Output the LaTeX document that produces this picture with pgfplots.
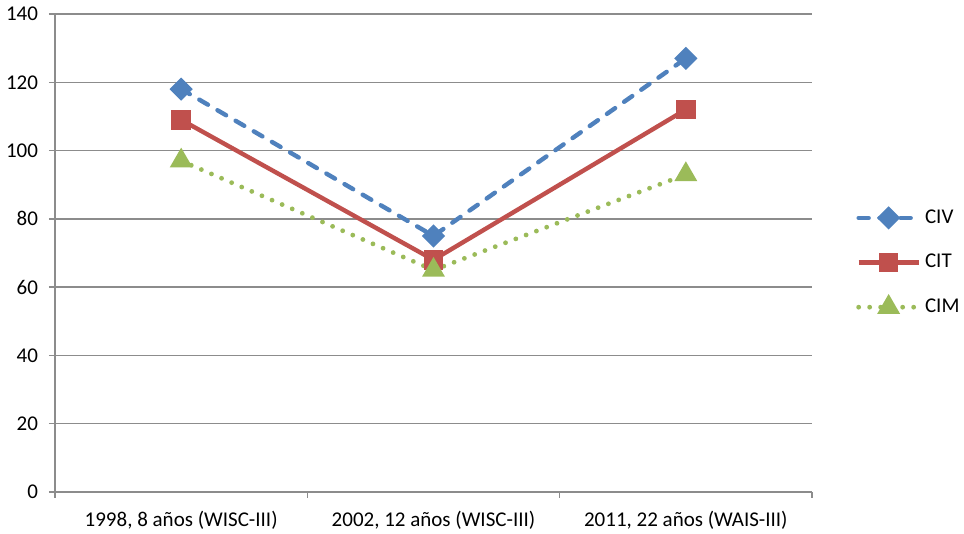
\documentclass[border=0pt]{standalone}
\usepackage{fontspec}
\setmainfont{Carlito}
\usepackage{pgfplots}
\pgfplotsset{compat=1.18}
\definecolor{civ}{HTML}{4F81BD}
\definecolor{cit}{HTML}{C0504D}
\definecolor{cim}{HTML}{9BBB59}
\definecolor{gridc}{HTML}{8C8C8C}
\begin{document}
\begin{tikzpicture}
\useasboundingbox (-27.5pt,-21pt) rectangle (454.5pt,246pt);
\begin{axis}[
  at={(0,0)}, anchor=south west,
  scale only axis, width=378.5pt, height=239pt,
  xmin=-0.5, xmax=2.5, ymin=0, ymax=140,
  ytick={0,20,...,140},
  xtick={0,1,2},
  xticklabels={{1998, 8 años (WISC-III)},{2002, 12 años (WISC-III)},{2011, 22 años (WAIS-III)}},
  minor xtick={-0.5,0.5,1.5,2.5},
  axis lines*=left,
  axis line style={gridc, line width=0.7pt},
  ymajorgrids, grid style={gridc, line width=0.7pt},
  tick align=outside,
  major tick length=3pt, minor tick length=3pt,
  x tick style={draw=none},
  minor x tick style={draw=gridc, line width=0.7pt},
  y tick style={gridc, line width=0.7pt},
  tick label style={font=\fontsize{10.5}{12}\selectfont, text=black},
  /pgf/number format/assume math mode=true,
  yticklabel style={xshift=-2pt},
  xticklabel style={yshift=-3pt},
  clip=false,
  legend style={at={(1.05,0.48)}, anchor=west, draw=none, fill=none,
    font=\fontsize{10.5}{12}\selectfont, row sep=10pt},
  legend cell align=left,
  legend image code/.code={
    \draw[#1, mark repeat=2, mark phase=2] plot coordinates {(0pt,0pt) (15pt,0pt) (30pt,0pt)};
  },
]
\addplot[civ, line width=2.2pt, line cap=round, dash pattern=on 5pt off 5.5pt,
  mark=square*, mark size=3pt, mark options={solid, rotate=45, fill=civ, draw=civ}]
  coordinates {(0,118) (1,75) (2,127)};
\addlegendentry{CIV}
\addplot[cit, line width=2.2pt,
  mark=square*, mark size=3.8pt, mark options={solid, fill=cit, draw=cit}]
  coordinates {(0,109) (1,68) (2,112)};
\addlegendentry{CIT}
\addplot[cim, line width=2.4pt, line cap=round, dash pattern=on 0pt off 5.5pt,
  mark=triangle*, mark size=4.2pt, mark options={solid, fill=cim, draw=cim}]
  coordinates {(0,97) (1,65) (2,93)};
\addlegendentry{CIM}
\end{axis}
\end{tikzpicture}
\end{document}
